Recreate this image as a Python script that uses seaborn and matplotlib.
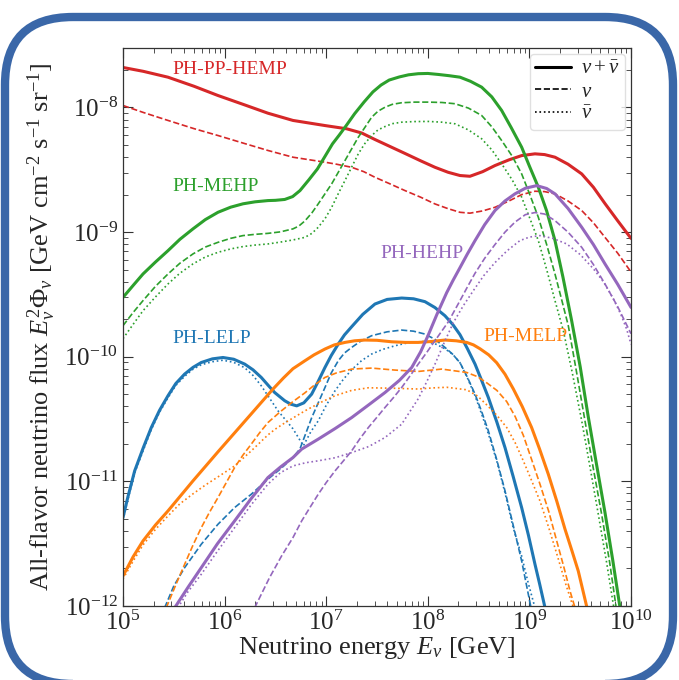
import numpy as np
import pandas as pd
import matplotlib
matplotlib.use("Agg")
import matplotlib.pyplot as plt
import seaborn as sns
from matplotlib.patches import FancyBboxPatch
from matplotlib.lines import Line2D

# ---------------- data (log10 energy [GeV], log10 flux) ----------------
red_tot_lgE = [5.0, 5.2, 5.443, 5.7, 5.935, 6.2, 6.427, 6.673, 6.988, 7.202, 7.35, 7.48, 7.62, 7.776, 7.93, 8.071, 8.2, 8.317, 8.415, 8.54, 8.661, 8.8, 8.924, 9.055, 9.15, 9.252, 9.38, 9.515, 9.63, 9.744, 9.87, 10.0]
red_tot_lgF = [-7.679, -7.71, -7.757, -7.83, -7.904, -7.98, -8.046, -8.104, -8.145, -8.171, -8.205, -8.257, -8.31, -8.369, -8.428, -8.48, -8.52, -8.546, -8.552, -8.515, -8.466, -8.42, -8.386, -8.372, -8.378, -8.399, -8.455, -8.533, -8.64, -8.771, -8.91, -9.05]
red_nu_lgE = [5.0, 5.2, 5.443, 5.7, 5.935, 6.2, 6.427, 6.673, 6.988, 7.1, 7.251, 7.37, 7.48, 7.62, 7.776, 7.93, 8.071, 8.2, 8.317, 8.415, 8.54, 8.661, 8.8, 8.924, 9.055, 9.15, 9.252, 9.38, 9.515, 9.63, 9.744, 9.87, 10.0]
red_nu_lgF = [-7.984, -8.04, -8.104, -8.17, -8.225, -8.29, -8.345, -8.399, -8.439, -8.455, -8.48, -8.515, -8.56, -8.61, -8.667, -8.72, -8.774, -8.812, -8.841, -8.848, -8.83, -8.801, -8.75, -8.699, -8.672, -8.675, -8.693, -8.75, -8.827, -8.925, -9.042, -9.17, -9.32]

green_tot_lgE = [5.0, 5.1, 5.197, 5.32, 5.443, 5.56, 5.689, 5.81, 5.935, 6.06, 6.181, 6.3, 6.427, 6.5, 6.592, 6.67, 6.742, 6.83, 6.914, 6.99, 7.062, 7.13, 7.202, 7.28, 7.374, 7.46, 7.54, 7.62, 7.72, 7.81, 7.906, 8.0, 8.103, 8.21, 8.317, 8.42, 8.53, 8.63, 8.727, 8.82, 8.924, 9.0, 9.088, 9.17, 9.252, 9.33, 9.416, 9.5, 9.579, 9.66, 9.744, 9.82, 9.892]
green_tot_lgF = [-9.524, -9.428, -9.336, -9.24, -9.149, -9.058, -8.974, -8.9, -8.841, -8.8, -8.773, -8.757, -8.747, -8.745, -8.738, -8.715, -8.667, -8.58, -8.493, -8.39, -8.292, -8.22, -8.14, -8.05, -7.955, -7.875, -7.82, -7.78, -7.755, -7.738, -7.729, -7.727, -7.735, -7.745, -7.757, -7.79, -7.837, -7.915, -8.024, -8.16, -8.319, -8.47, -8.64, -8.83, -9.068, -9.36, -9.711, -10.08, -10.48, -10.86, -11.25, -11.63, -12.014]
green_nu_lgE = [5.0, 5.1, 5.197, 5.32, 5.443, 5.56, 5.689, 5.81, 5.935, 6.06, 6.181, 6.3, 6.427, 6.55, 6.673, 6.73, 6.791, 6.86, 6.922, 7.054, 7.185, 7.316, 7.448, 7.51, 7.579, 7.65, 7.743, 7.87, 8.005, 8.14, 8.268, 8.4, 8.53, 8.63, 8.727, 8.83, 8.924, 9.0, 9.088, 9.17, 9.252, 9.32, 9.383, 9.47, 9.547, 9.63, 9.711, 9.79, 9.859]
green_nu_lgF = [-9.751, -9.645, -9.55, -9.435, -9.336, -9.25, -9.175, -9.12, -9.082, -9.05, -9.028, -9.018, -9.01, -8.998, -8.974, -8.952, -8.91, -8.845, -8.773, -8.613, -8.426, -8.239, -8.078, -8.03, -7.998, -7.975, -7.962, -7.957, -7.957, -7.96, -7.97, -8.005, -8.064, -8.155, -8.265, -8.39, -8.533, -8.69, -8.881, -9.1, -9.336, -9.55, -9.751, -10.15, -10.514, -10.9, -11.263, -11.65, -12.04]
green_nubar_lgE = [5.0, 5.1, 5.197, 5.32, 5.443, 5.56, 5.689, 5.81, 5.935, 6.06, 6.181, 6.3, 6.427, 6.55, 6.673, 6.791, 6.86, 6.922, 6.99, 7.054, 7.12, 7.185, 7.25, 7.316, 7.38, 7.448, 7.51, 7.579, 7.65, 7.743, 7.87, 8.005, 8.14, 8.268, 8.4, 8.53, 8.63, 8.727, 8.83, 8.924, 9.0, 9.088, 9.17, 9.252, 9.334, 9.42, 9.515, 9.6, 9.678, 9.76, 9.836]
green_nubar_lgF = [-9.855, -9.74, -9.631, -9.52, -9.416, -9.33, -9.255, -9.2, -9.162, -9.135, -9.116, -9.104, -9.095, -9.08, -9.063, -9.042, -9.01, -8.961, -8.89, -8.801, -8.69, -8.586, -8.48, -8.372, -8.29, -8.225, -8.18, -8.153, -8.13, -8.118, -8.113, -8.112, -8.118, -8.131, -8.18, -8.251, -8.34, -8.452, -8.58, -8.72, -8.88, -9.068, -9.3, -9.55, -9.791, -10.12, -10.514, -10.9, -11.263, -11.65, -12.04]

blue_tot_lgE = [5.0, 5.05, 5.115, 5.2, 5.279, 5.36, 5.443, 5.52, 5.607, 5.69, 5.771, 5.88, 5.984, 6.09, 6.198, 6.28, 6.361, 6.43, 6.493, 6.592, 6.65, 6.71, 6.78, 6.857, 6.92, 6.988, 7.05, 7.119, 7.18, 7.251, 7.36, 7.48, 7.6, 7.743, 7.86, 7.972, 8.07, 8.169, 8.245, 8.317, 8.39, 8.465, 8.53, 8.596, 8.68, 8.76, 8.84, 8.924, 8.99, 9.055, 9.1, 9.154]
blue_tot_lgF = [-11.291, -11.12, -10.916, -10.73, -10.568, -10.43, -10.313, -10.215, -10.139, -10.085, -10.046, -10.017, -10.006, -10.02, -10.059, -10.105, -10.166, -10.23, -10.287, -10.353, -10.38, -10.394, -10.37, -10.3, -10.2, -10.086, -9.99, -9.898, -9.825, -9.759, -9.66, -9.577, -9.54, -9.529, -9.535, -9.558, -9.605, -9.671, -9.74, -9.823, -9.935, -10.059, -10.19, -10.327, -10.525, -10.729, -10.96, -11.211, -11.43, -11.665, -11.82, -12.014]
blue_nu_lgE = [5.41, 5.5, 5.607, 5.771, 5.935, 6.099, 6.263, 6.427, 6.55, 6.673, 6.742, 6.857, 6.988, 7.05, 7.119, 7.18, 7.251, 7.34, 7.448, 7.6, 7.743, 7.86, 7.972, 8.07, 8.169, 8.245, 8.317, 8.39, 8.465, 8.53, 8.596, 8.68, 8.76, 8.84, 8.924, 9.016]
blue_nu_lgF = [-12.014, -11.84, -11.692, -11.504, -11.344, -11.21, -11.103, -10.982, -10.9, -10.809, -10.739, -10.49, -10.247, -10.13, -10.032, -9.97, -9.925, -9.875, -9.831, -9.8, -9.786, -9.795, -9.818, -9.86, -9.925, -9.98, -10.048, -10.165, -10.3, -10.44, -10.594, -10.83, -11.076, -11.35, -11.639, -12.014]
blue_nubar_lgE = [5.0, 5.05, 5.115, 5.2, 5.279, 5.36, 5.443, 5.52, 5.607, 5.69, 5.771, 5.88, 5.984, 6.09, 6.198, 6.28, 6.361, 6.526, 6.673, 6.72, 6.775, 6.85, 6.922, 7.0, 7.087, 7.17, 7.251, 7.35, 7.448, 7.56, 7.677, 7.82, 7.972, 8.07, 8.169, 8.245, 8.317, 8.39, 8.465, 8.53, 8.596, 8.68, 8.76, 8.84, 8.924, 8.99, 9.055]
blue_nubar_lgF = [-11.309, -11.14, -10.932, -10.75, -10.584, -10.445, -10.329, -10.23, -10.157, -10.1, -10.064, -10.04, -10.028, -10.045, -10.088, -10.15, -10.233, -10.434, -10.578, -10.64, -10.715, -10.6, -10.514, -10.39, -10.273, -10.18, -10.104, -10.03, -9.978, -9.94, -9.912, -9.885, -9.877, -9.895, -9.936, -9.98, -10.048, -10.17, -10.313, -10.46, -10.618, -10.84, -11.092, -11.37, -11.6, -11.82, -12.014]

orange_tot_lgE = [5.0, 5.1, 5.197, 5.32, 5.443, 5.689, 5.935, 6.263, 6.479, 6.58, 6.673, 6.791, 6.88, 6.988, 7.08, 7.185, 7.28, 7.382, 7.5, 7.645, 7.78, 7.906, 8.03, 8.169, 8.28, 8.383, 8.45, 8.514, 8.6, 8.678, 8.76, 8.841, 8.93, 9.022, 9.1, 9.186, 9.27, 9.35, 9.42, 9.481, 9.567]
orange_tot_lgF = [-11.759, -11.605, -11.478, -11.35, -11.237, -10.996, -10.763, -10.458, -10.257, -10.17, -10.096, -10.032, -9.985, -9.938, -9.905, -9.885, -9.872, -9.866, -9.868, -9.88, -9.885, -9.885, -9.878, -9.866, -9.872, -9.885, -9.905, -9.936, -9.985, -10.048, -10.14, -10.257, -10.4, -10.568, -10.74, -10.942, -11.16, -11.382, -11.56, -11.719, -12.014]
orange_nu_lgE = [5.426, 5.52, 5.607, 5.69, 5.771, 5.85, 5.935, 6.02, 6.099, 6.18, 6.263, 6.345, 6.427, 6.55, 6.673, 6.79, 6.88, 6.988, 7.1, 7.251, 7.448, 7.677, 7.906, 8.137, 8.383, 8.49, 8.58, 8.68, 8.777, 8.86, 8.94, 9.02, 9.104, 9.19, 9.269, 9.34, 9.4, 9.466]
orange_nu_lgF = [-12.014, -11.83, -11.665, -11.51, -11.371, -11.25, -11.13, -11.005, -10.889, -10.79, -10.701, -10.61, -10.528, -10.44, -10.36, -10.29, -10.23, -10.166, -10.13, -10.099, -10.091, -10.107, -10.118, -10.099, -10.126, -10.16, -10.209, -10.27, -10.36, -10.48, -10.63, -10.82, -11.022, -11.24, -11.478, -11.69, -11.88, -12.06]
orange_nubar_lgE = [5.0, 5.1, 5.197, 5.32, 5.443, 5.56, 5.689, 5.81, 5.935, 6.099, 6.263, 6.427, 6.5, 6.594, 6.791, 6.95, 7.087, 7.25, 7.415, 7.677, 7.906, 8.05, 8.186, 8.383, 8.49, 8.58, 8.68, 8.777, 8.86, 8.94, 9.02, 9.104, 9.19, 9.269, 9.36, 9.44]
orange_nubar_lgF = [-11.783, -11.64, -11.51, -11.385, -11.277, -11.18, -11.1, -11.03, -10.964, -10.876, -10.755, -10.627, -10.58, -10.53, -10.434, -10.365, -10.313, -10.27, -10.249, -10.253, -10.259, -10.25, -10.245, -10.265, -10.315, -10.386, -10.47, -10.568, -10.69, -10.835, -10.99, -11.157, -11.37, -11.58, -11.83, -12.03]

purple_tot_lgE = [5.509, 5.64, 5.771, 5.93, 6.099, 6.26, 6.427, 6.55, 6.673, 6.759, 6.922, 7.09, 7.251, 7.42, 7.579, 7.72, 7.842, 7.93, 8.002, 8.09, 8.186, 8.25, 8.317, 8.39, 8.465, 8.56, 8.661, 8.76, 8.858, 8.96, 9.072, 9.17, 9.252, 9.38, 9.515, 9.63, 9.744, 9.87, 10.0]
purple_tot_lgF = [-12.014, -11.85, -11.692, -11.5, -11.317, -11.14, -10.969, -10.885, -10.809, -10.741, -10.661, -10.575, -10.488, -10.385, -10.287, -10.19, -10.086, -9.96, -9.831, -9.66, -9.486, -9.385, -9.285, -9.175, -9.068, -8.94, -8.827, -8.75, -8.693, -8.648, -8.627, -8.65, -8.693, -8.81, -8.961, -9.1, -9.255, -9.42, -9.604]
purple_nu_lgE = [6.296, 6.442, 6.56, 6.673, 6.759, 6.84, 6.922, 7.0, 7.087, 7.17, 7.251, 7.33, 7.415, 7.5, 7.579, 7.66, 7.743, 7.82, 7.906, 7.99, 8.071, 8.202, 8.317, 8.39, 8.465, 8.56, 8.661, 8.76, 8.858, 8.96, 9.055, 9.15, 9.252, 9.38, 9.515, 9.63, 9.744, 9.87, 10.0]
purple_nu_lgF = [-12.014, -11.773, -11.6, -11.451, -11.317, -11.21, -11.103, -11.01, -10.916, -10.835, -10.755, -10.66, -10.568, -10.485, -10.407, -10.33, -10.247, -10.16, -10.059, -9.965, -9.871, -9.72, -9.55, -9.44, -9.33, -9.21, -9.1, -9.0, -8.92, -8.86, -8.843, -8.855, -8.908, -9.0, -9.122, -9.26, -9.416, -9.6, -9.815]
purple_nubar_lgE = [5.54, 5.64, 5.771, 5.93, 6.099, 6.26, 6.427, 6.55, 6.673, 6.8, 6.922, 7.09, 7.251, 7.42, 7.579, 7.743, 7.906, 7.99, 8.071, 8.16, 8.251, 8.35, 8.448, 8.55, 8.661, 8.78, 8.907, 9.0, 9.104, 9.23, 9.368, 9.5, 9.629, 9.73, 9.826, 9.9, 9.958, 10.0]
purple_nubar_lgF = [-12.014, -11.885, -11.745, -11.56, -11.371, -11.19, -11.022, -10.93, -10.876, -10.85, -10.835, -10.81, -10.769, -10.72, -10.648, -10.541, -10.337, -10.2, -10.059, -9.89, -9.727, -9.59, -9.47, -9.35, -9.245, -9.15, -9.068, -9.04, -9.028, -9.05, -9.095, -9.18, -9.293, -9.4, -9.534, -9.66, -9.78, -9.9]

model_names = ["PH-PP-HEMP", "PH-MEHP", "PH-LELP", "PH-MELP", "PH-HEHP"]
legend_labels = [r"$\nu + \bar{\nu}$", r"$\nu$", r"$\bar{\nu}$"]

# ---------------- assemble ----------------
curves = [
    ("PH-PP-HEMP", "tot", red_tot_lgE, red_tot_lgF),
    ("PH-PP-HEMP", "nu", red_nu_lgE, red_nu_lgF),
    ("PH-MEHP", "tot", green_tot_lgE, green_tot_lgF),
    ("PH-MEHP", "nu", green_nu_lgE, green_nu_lgF),
    ("PH-MEHP", "nubar", green_nubar_lgE, green_nubar_lgF),
    ("PH-LELP", "tot", blue_tot_lgE, blue_tot_lgF),
    ("PH-LELP", "nu", blue_nu_lgE, blue_nu_lgF),
    ("PH-LELP", "nubar", blue_nubar_lgE, blue_nubar_lgF),
    ("PH-MELP", "tot", orange_tot_lgE, orange_tot_lgF),
    ("PH-MELP", "nu", orange_nu_lgE, orange_nu_lgF),
    ("PH-MELP", "nubar", orange_nubar_lgE, orange_nubar_lgF),
    ("PH-HEHP", "tot", purple_tot_lgE, purple_tot_lgF),
    ("PH-HEHP", "nu", purple_nu_lgE, purple_nu_lgF),
    ("PH-HEHP", "nubar", purple_nubar_lgE, purple_nubar_lgF),
]
rows = []
for m, c, xe, yf in curves:
    for a, b in zip(xe, yf):
        rows.append({"model": m, "comp": c, "E": 10.0 ** a, "F": 10.0 ** b})
df = pd.DataFrame(rows)

colors = {"PH-PP-HEMP": "#d62728", "PH-MEHP": "#2ca02c", "PH-LELP": "#1f77b4",
          "PH-MELP": "#ff7f0e", "PH-HEHP": "#9467bd"}
styles = {"tot": ("-", 2.2), "nu": ("--", 1.2), "nubar": (":", 1.2)}

# ---------------- style ----------------
sns.set_style("ticks")
plt.rcParams['font.family'] = ['Liberation Serif', 'DejaVu Serif']
plt.rcParams['mathtext.fontset'] = 'custom'
plt.rcParams['mathtext.rm'] = 'Liberation Serif'
plt.rcParams['mathtext.it'] = 'Liberation Serif:italic'
plt.rcParams['mathtext.bf'] = 'Liberation Serif:bold'

fig = plt.figure(figsize=(6.79, 6.80), dpi=100)
fig.patch.set_facecolor("white")
ax = fig.add_axes([0.1811, 0.1088, 0.7482, 0.8206])
ax.set_xscale("log")
ax.set_yscale("log")

for (m, c), sub in df.groupby(["model", "comp"], sort=False):
    ls, lw = styles[c]
    sns.lineplot(data=sub, x="E", y="F", ax=ax, color=colors[m], linestyle=ls,
                 lw=lw, estimator=None, sort=True, legend=False)

ax.set_xlim(1e5, 1e10)
ax.set_ylim(1e-12, 3e-8)

ax.set_xlabel(r"Neutrino energy $E_\nu$ [GeV]", fontsize=19)
ax.set_ylabel(r"All-flavor neutrino flux $E_\nu^2\Phi_\nu$ [GeV cm$^{-2}$ s$^{-1}$ sr$^{-1}$]", fontsize=19)
ax.xaxis.set_label_coords(0.5, -0.052)
ax.yaxis.set_label_coords(-0.128, 0.5)

ax.tick_params(which="both", direction="in", top=True, right=True, labelsize=18, color="0.2")
ax.tick_params(which="major", length=7, width=0.8)
ax.tick_params(which="minor", length=3.5, width=0.6)
for s in ax.spines.values():
    s.set_linewidth(0.9)
    s.set_color("0.2")

# model labels
label_pos = {"PH-PP-HEMP": (0.098, 0.961), "PH-MEHP": (0.098, 0.751), "PH-LELP": (0.098, 0.480),
             "PH-HEHP": (0.506, 0.632), "PH-MELP": (0.709, 0.483)}
for m in model_names:
    x, y = label_pos[m]
    ax.text(x, y, m, transform=ax.transAxes, color=colors[m], fontsize=14,
            ha="left", va="center")

handles = [Line2D([], [], color="black", linestyle=styles[k][0], lw=styles[k][1])
           for k in ["tot", "nu", "nubar"]]
leg = ax.legend(handles, legend_labels, loc="upper right", fontsize=15, frameon=True,
                handlelength=1.7, handletextpad=0.5, labelspacing=0.15, borderpad=0.25,
                borderaxespad=0.3, fancybox=True)
leg.get_frame().set_edgecolor("0.85")

# rounded blue frame (bottom edge runs just below the canvas)
frame = FancyBboxPatch((5 / 679, -4 / 680), 668 / 679, 667 / 680,
                       boxstyle="round,pad=0,rounding_size=0.1",
                       transform=fig.transFigure, fill=False,
                       ec="#3a67a8", lw=6, zorder=10)
fig.patches.append(frame)

fig.savefig("out.png", dpi=100)
